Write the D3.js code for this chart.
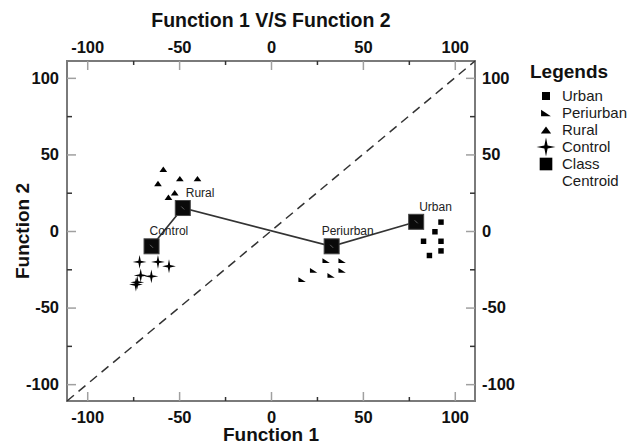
<!DOCTYPE html>
<html>
<head>
<meta charset="utf-8">
<script src="https://cdn.jsdelivr.net/npm/d3@7"></script>
<style>
  body { margin: 0; background: #fff; }
  svg text { font-family: "Liberation Sans", Arial, sans-serif; }
</style>
</head>
<body>
<div id="chart"></div>
<script>
// data
const classes = ["Control", "Rural", "Periurban", "Urban"];
const centroidX = [-65, -48, 33, 79];
const centroidY = [-10, 15, -10, 6];

const urban = [[92.5, 5.8], [89.2, -0.5], [83, -6.7], [92.5, -6.7], [92.5, -13], [86.2, -16]];
const periurban = [[30, -19.3], [38.7, -19.3], [23.2, -25.7], [32.7, -29], [38.7, -25.7], [16.9, -31.8]];
const rural = [[-58.6, 40.3], [-61.5, 31], [-49.6, 34.2], [-40, 34.2], [-52.4, 25], [-55.8, 22]];
const control = [[-71.5, -20.2], [-61.5, -20.2], [-55.5, -23], [-70.9, -29], [-65.1, -29.6], [-72.8, -33.5], [-73.5, -35]];

const majorTicks = [-100, -50, 0, 50, 100];
const minorTicks = [-75, -25, 25, 75];
const legendItems = ["Urban", "Periurban", "Rural", "Control", "Class"];

const width = 633, height = 444;
const margin = { top: 61, right: 158, bottom: 43, left: 67 };

const svg = d3.select("#chart").append("svg")
    .attr("width", width)
    .attr("height", height);

const x = d3.scaleLinear().domain([-111, 111]).range([margin.left, width - margin.right]);
const y = d3.scaleLinear().domain([-111, 111]).range([height - margin.bottom, margin.top]);

// custom marker shapes
const symStar4 = {
  draw(ctx, size) {
    const r = Math.sqrt(size) * 0.75, ri = r * 0.24;
    for (let i = 0; i < 8; i++) {
      const a = i * Math.PI / 4 - Math.PI / 2;
      const rr = i % 2 === 0 ? r : ri;
      if (i === 0) ctx.moveTo(rr * Math.cos(a), rr * Math.sin(a));
      else ctx.lineTo(rr * Math.cos(a), rr * Math.sin(a));
    }
    ctx.closePath();
  }
};
const symWedge = {
  draw(ctx, size) {
    const w = Math.sqrt(size) * 1.1, h = w * 0.65;
    ctx.moveTo(-w / 2, -h / 2);
    ctx.lineTo(-w / 2, h / 2);
    ctx.lineTo(w / 2, h / 2);
    ctx.closePath();
  }
};
const symTri = {
  draw(ctx, size) {
    const w = Math.sqrt(size) * 1.15, h = w * 0.7;
    ctx.moveTo(0, -h / 2);
    ctx.lineTo(w / 2, h / 2);
    ctx.lineTo(-w / 2, h / 2);
    ctx.closePath();
  }
};

// frame
svg.append("rect")
    .attr("x", x(-111)).attr("y", y(111))
    .attr("width", x(111) - x(-111)).attr("height", y(-111) - y(111))
    .attr("fill", "none").attr("stroke", "#7a7a7a").attr("stroke-width", 2);

function styleAxis(g, major) {
  g.select(".domain").remove();
  g.selectAll(".tick line")
      .attr("stroke", major ? "#a0a0a0" : "#333")
      .attr("stroke-width", 1.5);
  g.selectAll(".tick text")
      .attr("fill", "#111")
      .style("font-size", "16.5px")
      .style("font-weight", "bold");
}

const fmt = d => d < 0 ? "-" + Math.abs(d) : d;

svg.append("g").attr("transform", `translate(0,${y(-111)})`)
    .call(d3.axisBottom(x).tickValues(majorTicks).tickFormat(fmt).tickSize(-9).tickPadding(10))
    .call(g => styleAxis(g, true));
svg.append("g").attr("transform", `translate(0,${y(-111)})`)
    .call(d3.axisBottom(x).tickValues(minorTicks).tickFormat("").tickSize(-4))
    .call(g => styleAxis(g, false));
svg.append("g").attr("transform", `translate(0,${y(111)})`)
    .call(d3.axisTop(x).tickValues(majorTicks).tickFormat(fmt).tickSize(-9).tickPadding(8))
    .call(g => styleAxis(g, true));
svg.append("g").attr("transform", `translate(0,${y(111)})`)
    .call(d3.axisTop(x).tickValues(minorTicks).tickFormat("").tickSize(-4))
    .call(g => styleAxis(g, false));
svg.append("g").attr("transform", `translate(${x(-111)},0)`)
    .call(d3.axisLeft(y).tickValues(majorTicks).tickFormat(fmt).tickSize(-9).tickPadding(8))
    .call(g => styleAxis(g, true));
svg.append("g").attr("transform", `translate(${x(-111)},0)`)
    .call(d3.axisLeft(y).tickValues(minorTicks).tickFormat("").tickSize(-5))
    .call(g => styleAxis(g, false));
svg.append("g").attr("transform", `translate(${x(111)},0)`)
    .call(d3.axisRight(y).tickValues(majorTicks).tickFormat(fmt).tickSize(-9).tickPadding(7))
    .call(g => styleAxis(g, true));
svg.append("g").attr("transform", `translate(${x(111)},0)`)
    .call(d3.axisRight(y).tickValues(minorTicks).tickFormat("").tickSize(-5))
    .call(g => styleAxis(g, false));

// diagonal reference line
svg.append("line")
    .attr("x1", x(-111)).attr("y1", y(-111))
    .attr("x2", x(111)).attr("y2", y(111))
    .attr("stroke", "#333").attr("stroke-width", 1.5)
    .attr("stroke-dasharray", "9,6");

// group points
svg.append("g").selectAll("path").data(urban).join("path")
    .attr("transform", d => `translate(${x(d[0])},${y(d[1])})`)
    .attr("d", d3.symbol(d3.symbolSquare, 30)).attr("fill", "#000");
svg.append("g").selectAll("path").data(periurban).join("path")
    .attr("transform", d => `translate(${x(d[0])},${y(d[1])})`)
    .attr("d", d3.symbol(symWedge, 45)).attr("fill", "#000");
svg.append("g").selectAll("path").data(rural).join("path")
    .attr("transform", d => `translate(${x(d[0])},${y(d[1])})`)
    .attr("d", d3.symbol(symTri, 45)).attr("fill", "#000");
svg.append("g").selectAll("path").data(control).join("path")
    .attr("transform", d => `translate(${x(d[0])},${y(d[1])})`)
    .attr("d", d3.symbol(symStar4, 85)).attr("fill", "#000");

// centroid path
const centroids = classes.map((c, i) => ({ name: c, x: centroidX[i], y: centroidY[i] }));
svg.append("path").datum(centroids)
    .attr("d", d3.line().x(d => x(d.x)).y(d => y(d.y)))
    .attr("fill", "none").attr("stroke", "#333").attr("stroke-width", 1.6);

svg.append("g").selectAll("rect").data(centroids).join("rect")
    .attr("x", d => x(d.x) - 7.5).attr("y", d => y(d.y) - 7.5)
    .attr("width", 15).attr("height", 15)
    .attr("fill", "#0a0a0a").attr("stroke", "#444").attr("stroke-width", 1);
svg.append("g").selectAll("line").data(centroids).join("line")
    .attr("x1", d => x(d.x) - 1.5).attr("y1", d => y(d.y) - 1.5)
    .attr("x2", d => x(d.x) + 1.5).attr("y2", d => y(d.y) + 1.5)
    .attr("stroke", "#777").attr("stroke-width", 0.8);

const labelDx = { Control: -2, Rural: 3, Periurban: -10, Urban: 3 };
svg.append("g").selectAll("text").data(centroids).join("text")
    .attr("x", d => x(d.x) + labelDx[d.name])
    .attr("y", d => y(d.y) - 11)
    .attr("fill", "#222")
    .style("font-size", "12px")
    .text(d => d.name);

// titles
svg.append("text")
    .attr("x", x(0)).attr("y", 27)
    .attr("text-anchor", "middle")
    .style("font-size", "19.5px").style("font-weight", "bold")
    .attr("fill", "#111")
    .text("Function 1 V/S Function 2");
svg.append("text")
    .attr("x", x(0)).attr("y", 441)
    .attr("text-anchor", "middle")
    .style("font-size", "19px").style("font-weight", "bold")
    .attr("fill", "#111")
    .text("Function 1");
svg.append("text")
    .attr("transform", `translate(29,${y(0)}) rotate(-90)`)
    .attr("text-anchor", "middle")
    .style("font-size", "19px").style("font-weight", "bold")
    .attr("fill", "#111")
    .text("Function 2");

// legend
const lg = svg.append("g").attr("transform", "translate(530,0)");
lg.append("text").attr("x", 0).attr("y", 78)
    .style("font-size", "19px").style("font-weight", "bold")
    .attr("fill", "#111")
    .text("Legends");
const legendSyms = [
  d3.symbol(d3.symbolSquare, 64),
  d3.symbol(symWedge, 80),
  d3.symbol(symTri, 80),
  d3.symbol(symStar4, 160),
  d3.symbol(d3.symbolSquare, 160)
];
const ly = i => 96 + i * 17;
legendItems.forEach((name, i) => {
  lg.append("path")
      .attr("transform", `translate(16,${ly(i)})`)
      .attr("d", legendSyms[i]).attr("fill", "#000");
  lg.append("text").attr("x", 32).attr("y", ly(i) + 5)
      .style("font-size", "15px")
      .attr("fill", "#1a1a1a")
      .text(name);
});
lg.append("text").attr("x", 32).attr("y", ly(5) + 5)
    .style("font-size", "15px")
    .attr("fill", "#1a1a1a")
    .text("Centroid");
</script>
</body>
</html>
